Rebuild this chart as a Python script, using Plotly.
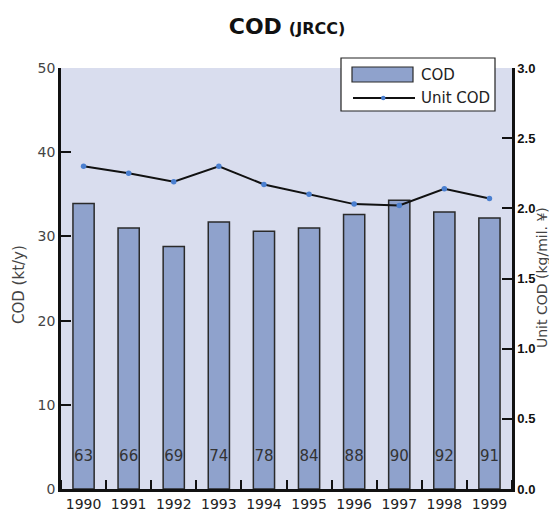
import plotly.graph_objects as go

years = [1990, 1991, 1992, 1993, 1994, 1995, 1996, 1997, 1998, 1999]
cod = [33.9, 31.0, 28.8, 31.7, 30.6, 31.0, 32.6, 34.3, 32.9, 32.2]
unit_cod = [2.30, 2.25, 2.19, 2.30, 2.17, 2.10, 2.03, 2.02, 2.14, 2.07]
bar_labels = ["63", "66", "69", "74", "78", "84", "88", "90", "92", "91"]
label_y = [3.8] * len(years)

BAR_COLOR = "#8fa2cc"
BAR_EDGE = "#2a2a2a"
LINE_COLOR = "#111111"
MARKER_COLOR = "#4a7fd0"
FONT = "DejaVu Sans, Liberation Sans, Arial"
FONT_B = "Liberation Sans, Arial"

# The page body has an 8px margin, so the figure is drawn 8px smaller
# and offset; layout positions below are given in reference-window pixels.
OFF = 8
W, H = 557 - OFF, 514 - OFF
L, R, T, B = 61, 512, 68, 489          # plot area in window pixels
def px(xp):
    return (xp - L) / (R - L)
def py(yp):
    return (B - yp) / (B - T)

fig = go.Figure()
fig.add_trace(go.Bar(
    x=years, y=cod, name="COD", width=0.47,
    marker=dict(color=BAR_COLOR, line=dict(color=BAR_EDGE, width=1.5)),
    yaxis="y", showlegend=False,
))
fig.add_trace(go.Scatter(
    x=years, y=label_y, mode="text", text=bar_labels, showlegend=False,
    textfont=dict(family=FONT, size=15, color="#333333"),
    yaxis="y", hoverinfo="skip",
))
fig.add_trace(go.Scatter(
    x=years, y=unit_cod, name="Unit COD", mode="lines+markers",
    line=dict(color=LINE_COLOR, width=2),
    marker=dict(color=MARKER_COLOR, size=5.5),
    yaxis="y2", showlegend=False,
))

# custom legend (box, swatches, labels)
shapes = [
    dict(type="rect", xref="paper", yref="paper",
         x0=px(341), x1=px(495), y0=py(111), y1=py(58),
         fillcolor="white", line=dict(color="#222222", width=1.2), layer="above"),
    dict(type="rect", xref="paper", yref="paper",
         x0=px(352), x1=px(413), y0=py(82), y1=py(67),
         fillcolor=BAR_COLOR, line=dict(color=BAR_EDGE, width=1.2), layer="above"),
    dict(type="line", xref="paper", yref="paper",
         x0=px(353), x1=px(415), y0=py(98), y1=py(98),
         line=dict(color=LINE_COLOR, width=2), layer="above"),
    dict(type="circle", xref="paper", yref="paper",
         x0=px(381), x1=px(385.5), y0=py(100.3), y1=py(95.7),
         fillcolor=MARKER_COLOR, line=dict(width=0), layer="above"),
]
annotations = [
    dict(text="COD", x=px(419), y=py(75), xref="paper", yref="paper",
         xanchor="left", yanchor="middle", showarrow=False,
         font=dict(family=FONT, size=15, color="#222222")),
    dict(text="Unit COD", x=px(419), y=py(98), xref="paper", yref="paper",
         xanchor="left", yanchor="middle", showarrow=False,
         font=dict(family=FONT, size=15, color="#222222")),
    dict(text="COD (kt/y)", x=px(19), y=py(285), xref="paper", yref="paper",
         xanchor="center", yanchor="middle", showarrow=False, textangle=-90,
         font=dict(family=FONT, size=15, color="#444444")),
    dict(text="Unit COD (kg/mil. ¥)", x=px(542), y=py(278), xref="paper", yref="paper",
         xanchor="center", yanchor="middle", showarrow=False, textangle=-90,
         font=dict(family=FONT, size=14, color="#444444")),
]

fig.update_layout(
    width=W, height=H,
    margin=dict(l=L - OFF, r=557 - R, t=T - OFF, b=514 - B),
    paper_bgcolor="white",
    plot_bgcolor="#d9ddee",
    font=dict(family=FONT, size=12, color="#333333"),
    title=dict(
        text="<b>COD</b> <b><span style='font-size:16px'>(JRCC)</span></b>",
        x=(287 - OFF) / W, xanchor="center", y=1 - (26 - OFF) / H, yanchor="middle",
        yref="container",
        font=dict(family=FONT, size=22, color="#111111"),
    ),
    showlegend=False,
    shapes=shapes,
    annotations=annotations,
    xaxis=dict(
        range=[1989.5, 1999.5], automargin=False,
        tickvals=years, ticktext=[str(y) for y in years],
        ticks="", showgrid=False, zeroline=False,
        showline=True, linecolor="#111111", linewidth=2.5,
        tickfont=dict(family=FONT, size=14, color="#222222"),
        minor=dict(tick0=1989.5, dtick=1, ticks="inside", ticklen=9,
                   tickwidth=1.5, tickcolor="#111111", showgrid=False),
    ),
    yaxis=dict(
        range=[0, 50], tickvals=[0, 10, 20, 30, 40, 50], automargin=False,
        ticks="inside", ticklen=10, tickwidth=1.5, tickcolor="#111111",
        showgrid=False, zeroline=False,
        showline=True, linecolor="#111111", linewidth=2.5,
        tickfont=dict(family=FONT, size=14, color="#444444"),
    ),
    yaxis2=dict(
        range=[0, 3.0], tickvals=[0, 0.5, 1.0, 1.5, 2.0, 2.5, 3.0], automargin=False,
        tickformat=".1f", overlaying="y", side="right",
        ticks="inside", ticklen=10, tickwidth=1.5, tickcolor="#111111",
        showgrid=False, zeroline=False,
        showline=True, linecolor="#111111", linewidth=2.5,
        tickfont=dict(family=FONT_B, size=13, color="#111111", weight="bold"),
    ),
)

fig.write_html("out.html")
